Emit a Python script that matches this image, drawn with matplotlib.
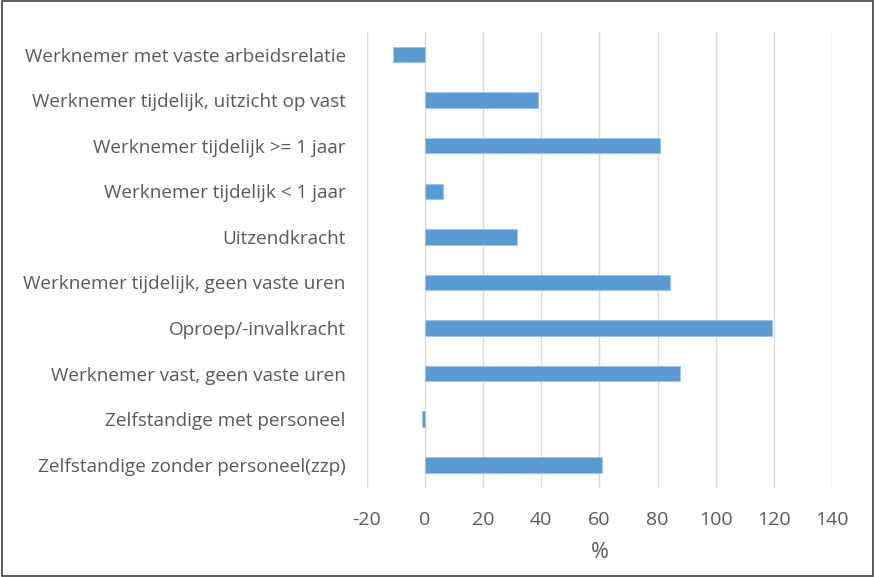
import matplotlib.pyplot as plt
from matplotlib.patches import Rectangle

categories = [
    'Werknemer met vaste arbeidsrelatie',
    'Werknemer tijdelijk, uitzicht op vast',
    'Werknemer tijdelijk >= 1 jaar',
    'Werknemer tijdelijk < 1 jaar',
    'Uitzendkracht',
    'Werknemer tijdelijk, geen vaste uren',
    'Oproep/-invalkracht',
    'Werknemer vast, geen vaste uren',
    'Zelfstandige met personeel',
    'Zelfstandige zonder personeel(zzp)',
]
values = [-11, 39, 81, 6.2, 31.6, 84.2, 119.2, 87.6, -0.9, 60.9]
xticks = [-20, 0, 20, 40, 60, 80, 100, 120, 140]

text_color = '#595959'
plt.rcParams['font.family'] = ['Open Sans', 'DejaVu Sans']
plt.rcParams['axes.unicode_minus'] = False

fig = plt.figure(figsize=(8.75, 5.77), dpi=100)
ax = fig.add_axes([0.419, 0.155, 0.532, 0.79])

ypos = list(range(len(categories)))[::-1]
ax.barh(ypos, values, height=0.34, color='#5B9BD5', edgecolor='#9DC3E6', linewidth=0.6, zorder=3)

ax.set_xlim(-20, 140)
ax.set_ylim(-0.5, len(categories) - 0.5)
ax.set_xticks(xticks)
ax.set_yticks(ypos)
ax.set_yticklabels(categories)
ax.xaxis.grid(True, color='#D9D9D9', linewidth=1, zorder=0)
ax.tick_params(axis='both', length=0, colors=text_color)
ax.tick_params(axis='y', pad=15, labelsize=13.6)
ax.tick_params(axis='x', pad=17, labelsize=14)
for s in ax.spines.values():
    s.set_visible(False)
ax.set_xlabel('%', fontsize=15.5, color=text_color, labelpad=9)

# border around the whole chart
fig.patches.append(Rectangle((0.002, 0.002), 0.996, 0.996, transform=fig.transFigure,
                             fill=False, edgecolor='#404040', linewidth=1.2))

fig.savefig('out.png', dpi=100)
